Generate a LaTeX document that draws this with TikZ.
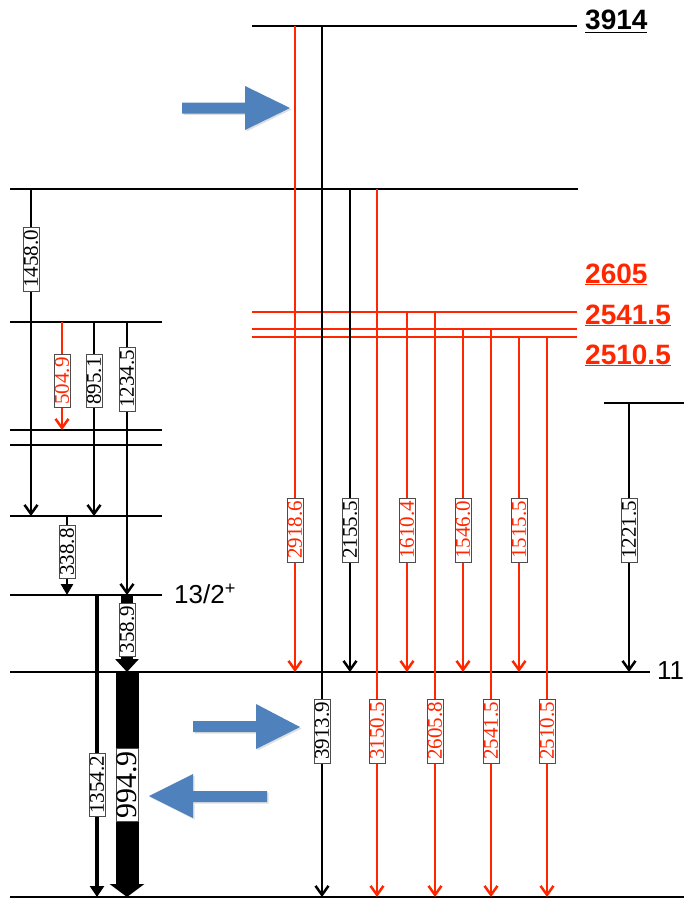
\documentclass[tikz,border=0pt]{standalone}
\usepackage{fontspec}
\setmainfont{Liberation Serif}
\setsansfont{Liberation Sans}
\usetikzlibrary{arrows.meta,shadows}
\definecolor{gred}{RGB}{255,38,0}
\definecolor{barblue}{RGB}{79,129,189}
\tikzset{
  lev/.style={line width=2.9pt},
  gam/.style={line width=2.7pt, -{Straight Barb[length=9pt,width=13pt,line width=2.5pt]}},
  gamtri/.style={line width=2.7pt, -{Triangle[length=11pt,width=12pt]}},
  elbl/.style={fill=white, draw=black!70, line width=0.7pt, rotate=90, inner xsep=3pt, inner ysep=1pt,
    font=\fontsize{21}{21}\selectfont},
  lvlbl/.style={font=\sffamily\bfseries\fontsize{28}{28}\selectfont, anchor=base west, inner sep=0pt},
  spinlbl/.style={font=\sffamily\fontsize{26}{26}\selectfont, anchor=west, inner sep=0pt},
  barr/.style={fill=barblue, drop shadow={opacity=0.25, shadow xshift=1.5pt, shadow yshift=-1.5pt}}
}
\begin{document}
\begin{tikzpicture}[x=1pt,y=-1pt]
\useasboundingbox (0,0) rectangle (684,899);
% levels
\foreach \xa/\xb/\y in {252/577/26, 10/578/189, 10/162/322, 10/162/430, 10/162/445, 10/162/516,
  10/162/595, 604/684/403, 10/650/672, 10/684/897}
  \draw[lev] (\xa,\y) -- (\xb,\y);
\foreach \y in {312,329,337} \draw[lev,gred] (252,\y) -- (577,\y);
% level labels
\node[lvlbl] (e3914) at (585,30) {\underline{3914}};
\node[lvlbl,gred] (e2605) at (585,283) {\underline{2605}};
\node[lvlbl,gred] (e2541) at (585,324) {\underline{2541.5}};
\node[lvlbl,gred] (e2510) at (585,364) {\underline{2510.5}};
\node[spinlbl] (s13) at (174,594) {13/2\textsuperscript{+}};
\node[spinlbl] (s11) at (657,671) {11};
% transitions
\foreach \nm/\x/\ya/\yb/\ly/\e/\c in {
  a/31/189/516/259/1458.0/black, b/62/322/430/381/504.9/gred, c/94/322/516/381/895.1/black,
  d/127/322/595/379/1234.5/black, f/295/26/672/530/2918.6/gred, g/322/26/897/731/3913.9/black,
  k/350/189/672/530/2155.5/black, m/377/189/897/731/3150.5/gred, n/407/312/672/530/1610.4/gred,
  o/435/312/897/731/2605.8/gred, p/463/329/672/530/1546.0/gred, q/491/329/897/731/2541.5/gred,
  r/519/337/672/530/1515.5/gred, s/547/337/897/731/2510.5/gred, t/629/403/672/530/1221.5/black}
{
  \coordinate (\nm top) at (\x,\ya);
  \coordinate (\nm bot) at (\x,\yb);
  \pgfmathsetmacro\p{(\ly-\ya)/(\yb-\ya)}
  \draw[gam,\c] (\nm top) -- node[elbl,text=\c,pos=\p] (\nm lbl) {\e} (\nm bot);
}
% feeding the 13/2+ level
\coordinate (h top) at (67,516);
\coordinate (h bot) at (67,595);
\draw[gamtri] (h top) -- node[elbl,pos=0.456] (h lbl) {338.8} (h bot);
\coordinate (u top) at (127,595);
\coordinate (u bot) at (127,672);
\draw[line width=12pt, -{Triangle[length=13pt,width=23pt]}] (u top) -- node[elbl,pos=0.45] (u lbl) {358.9} (u bot);
% decays to ground
\coordinate (v top) at (97,595);
\coordinate (v bot) at (97,897);
\draw[line width=3.2pt, -{Triangle[length=11pt,width=14pt]}] (v top) -- node[elbl,pos=0.629] (v lbl) {1354.2} (v bot);
\coordinate (w top) at (127,672);
\coordinate (w bot) at (127,897);
\draw[line width=23pt, -{Triangle[length=13pt,width=34pt]}] (w top) --
  node[elbl,pos=0.502,font=\fontsize{30}{30}\selectfont] (w lbl) {994.9} (w bot);
% blue pointers
\fill[barr] (182,102.5) -- (245,102.5) -- (245,86) -- (290,108) -- (245,130) -- (245,113.5) -- (182,113.5) -- cycle;
\fill[barr] (193,721) -- (256,721) -- (256,704) -- (300,727) -- (256,749) -- (256,732) -- (193,732) -- cycle;
\fill[barr] (267,791) -- (193,791) -- (193,774) -- (149,796) -- (193,818) -- (193,802) -- (267,802) -- cycle;
\end{tikzpicture}
\end{document}
